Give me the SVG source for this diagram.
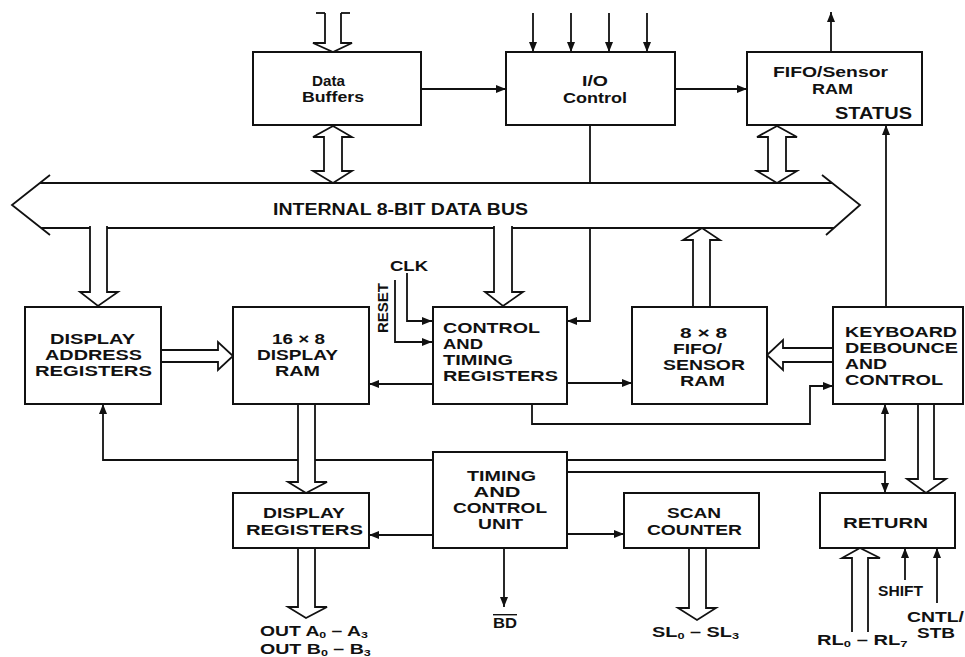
<svg xmlns="http://www.w3.org/2000/svg" width="965" height="657" viewBox="0 0 965 657">
<style>
.bx{fill:#fff;stroke:#111;stroke-width:2}
.ln{fill:none;stroke:#111;stroke-width:1.8}
.ar{marker-end:url(#ah)}
.ha{fill:#fff;stroke:#111;stroke-width:1.8;stroke-linejoin:miter}
.t{font-family:"Liberation Sans",Arial,sans-serif;font-weight:bold;font-size:14px;fill:#111}
.c{text-anchor:middle}
.sub{font-size:9px}
</style>
<defs>
<marker id="ah" markerUnits="userSpaceOnUse" markerWidth="10" markerHeight="8" refX="10" refY="4" orient="auto">
<path d="M0,0 L10,4 L0,8 z" fill="#111"/>
</marker>
</defs>
<rect width="965" height="657" fill="#fff"/>

<g id="connectors">
<!-- bus -->
<path class="ln" d="M50,175 L12,205 L50,235"/>
<path class="ln" d="M822,175 L860,205 L826,235"/>
<line class="ln" x1="40" y1="183" x2="832" y2="183"/>
<line class="ln" x1="41" y1="228" x2="834" y2="228"/>
<!-- simple lines -->
<line class="ln ar" x1="421" y1="89" x2="506" y2="89"/>
<line class="ln ar" x1="675" y1="89" x2="747" y2="89"/>
<line class="ln ar" x1="533" y1="13" x2="533" y2="52"/>
<line class="ln ar" x1="571" y1="13" x2="571" y2="52"/>
<line class="ln ar" x1="609" y1="13" x2="609" y2="52"/>
<line class="ln ar" x1="647" y1="13" x2="647" y2="52"/>
<line class="ln ar" x1="831" y1="52" x2="831" y2="12"/>
<line class="ln" x1="590" y1="125" x2="590" y2="183"/>
<path class="ln ar" d="M590,228 L590,321 L567,321"/>
<path class="ln ar" d="M407,273 L407,321 L432,321"/>
<path class="ln ar" d="M395,280 L395,342 L432,342"/>
<line class="ln ar" x1="433" y1="384" x2="369" y2="384"/>
<line class="ln ar" x1="567" y1="383" x2="632" y2="383"/>
<path class="ln ar" d="M532,404 L532,424 L810,424 L810,386 L833,386"/>
<line class="ln ar" x1="886" y1="308" x2="886" y2="125"/>
<path class="ln ar" d="M567,460 L885,460 L885,404"/>
<path class="ln ar" d="M567,472 L885,472 L885,493"/>
<path class="ln ar" d="M433,460 L103,460 L103,404"/>
<line class="ln ar" x1="433" y1="535" x2="369" y2="535"/>
<line class="ln ar" x1="567" y1="534" x2="624" y2="534"/>
<line class="ln ar" x1="504" y1="548" x2="504" y2="607"/>
<line class="ln ar" x1="905" y1="580" x2="905" y2="548"/>
<line class="ln ar" x1="937" y1="603" x2="937" y2="548"/>
<!-- hollow bus arrows -->
<path class="ha" d="M325,13 L325,43 L313,43 L333,52 L352,43 L341,43 L341,13"/>
<line class="ln" x1="316" y1="13" x2="325" y2="13"/>
<line class="ln" x1="341" y1="13" x2="350" y2="13"/>
<path class="ha" d="M324,137 L313,137 L333,126 L352,137 L342,137 L342,171 L352,171 L333,183 L313,171 L324,171 Z"/>
<path class="ha" d="M768,137 L757,137 L777,126 L797,137 L786,137 L786,171 L797,171 L777,183 L757,171 L768,171 Z"/>
<path class="ha" d="M90,226 L90,292 L80,292 L98,306 L118,292 L107,292 L107,226"/>
<path class="ha" d="M494,226 L494,292 L485,292 L503,306 L523,292 L512,292 L512,226"/>
<path class="ha" d="M693,308 L693,240 L683,240 L702,228 L720,240 L710,240 L710,308"/>
<path class="ha" d="M161,350 L218,350 L218,342 L233,356 L218,370 L218,362 L161,362"/>
<path class="ha" d="M833,348 L783,348 L783,340 L767,355 L783,370 L783,362 L833,362"/>
<path class="ha" d="M298,404 L298,482 L288,482 L306,493 L327,482 L315,482 L315,404"/>
<path class="ha" d="M298,548 L298,607 L288,607 L306,618 L327,607 L315,607 L315,548"/>
<path class="ha" d="M689,548 L689,608 L678,608 L697,620 L716,608 L706,608 L706,548"/>
<path class="ha" d="M918,404 L918,479 L907,479 L926,493 L946,479 L934,479 L934,404"/>
<path class="ha" d="M852,632 L852,558 L842,558 L860,548 L880,558 L868,558 L868,632"/>
</g>

<g id="bus-label">
<text class="t" x="273" y="215" style="font-size:16px" textLength="255" lengthAdjust="spacingAndGlyphs">INTERNAL 8-BIT DATA BUS</text>
</g>

<g id="data-buffers">
<rect class="bx" x="253" y="52" width="168" height="73"/>
<text class="t c" x="328.5" y="86" style="font-size:15px" textLength="33" lengthAdjust="spacingAndGlyphs">Data</text>
<text class="t c" x="333" y="102" style="font-size:15px" textLength="62" lengthAdjust="spacingAndGlyphs">Buffers</text>
</g>

<g id="io-control">
<rect class="bx" x="506" y="52" width="169" height="73"/>
<text class="t c" x="595" y="86" style="font-size:15px" textLength="26" lengthAdjust="spacingAndGlyphs">I/O</text>
<text class="t c" x="595" y="103" style="font-size:15px" textLength="64" lengthAdjust="spacingAndGlyphs">Control</text>
</g>

<g id="fifo-sensor-ram-status">
<rect class="bx" x="747" y="52" width="175" height="73"/>
<text class="t c" x="830.5" y="77" style="font-size:15px" textLength="115" lengthAdjust="spacingAndGlyphs">FIFO/Sensor</text>
<text class="t c" x="832.5" y="94" style="font-size:15px" textLength="41" lengthAdjust="spacingAndGlyphs">RAM</text>
<text class="t" x="835" y="119" style="font-size:16px" textLength="77" lengthAdjust="spacingAndGlyphs">STATUS</text>
</g>

<g id="display-address-registers">
<rect class="bx" x="25" y="307" width="136" height="97"/>
<text class="t c" x="92.5" y="344" textLength="85" lengthAdjust="spacingAndGlyphs">DISPLAY</text>
<text class="t c" x="93.5" y="360" textLength="97" lengthAdjust="spacingAndGlyphs">ADDRESS</text>
<text class="t c" x="93.5" y="376" textLength="117" lengthAdjust="spacingAndGlyphs">REGISTERS</text>
</g>

<g id="display-ram">
<rect class="bx" x="233" y="307" width="136" height="97"/>
<text class="t c" x="298.5" y="344" textLength="53" lengthAdjust="spacingAndGlyphs">16 × 8</text>
<text class="t c" x="297.5" y="360" textLength="81" lengthAdjust="spacingAndGlyphs">DISPLAY</text>
<text class="t c" x="297.5" y="376" textLength="45" lengthAdjust="spacingAndGlyphs">RAM</text>
</g>

<g id="clk-reset">
<text class="t" x="390" y="271" textLength="38" lengthAdjust="spacingAndGlyphs">CLK</text>
<text class="t c" transform="translate(388,308) rotate(-90)" x="0" y="0" textLength="50" lengthAdjust="spacingAndGlyphs">RESET</text>
</g>

<g id="control-timing-registers">
<rect class="bx" x="433" y="307" width="134" height="97"/>
<text class="t" x="443" y="333" textLength="97" lengthAdjust="spacingAndGlyphs">CONTROL</text>
<text class="t" x="443" y="349" textLength="40" lengthAdjust="spacingAndGlyphs">AND</text>
<text class="t" x="443" y="365" textLength="70" lengthAdjust="spacingAndGlyphs">TIMING</text>
<text class="t" x="443" y="381" textLength="115" lengthAdjust="spacingAndGlyphs">REGISTERS</text>
</g>

<g id="fifo-sensor-ram-8x8">
<rect class="bx" x="632" y="307" width="135" height="97"/>
<text class="t c" x="703.5" y="338" textLength="47" lengthAdjust="spacingAndGlyphs">8 × 8</text>
<text class="t c" x="697.5" y="354" textLength="49" lengthAdjust="spacingAndGlyphs">FIFO/</text>
<text class="t c" x="704" y="370" textLength="82" lengthAdjust="spacingAndGlyphs">SENSOR</text>
<text class="t c" x="702.5" y="386" textLength="45" lengthAdjust="spacingAndGlyphs">RAM</text>
</g>

<g id="keyboard-debounce-control">
<rect class="bx" x="833" y="307" width="130" height="97"/>
<text class="t" x="845" y="337" textLength="112" lengthAdjust="spacingAndGlyphs">KEYBOARD</text>
<text class="t" x="845" y="353" textLength="113" lengthAdjust="spacingAndGlyphs">DEBOUNCE</text>
<text class="t" x="845" y="369" textLength="42" lengthAdjust="spacingAndGlyphs">AND</text>
<text class="t" x="845" y="385" textLength="98" lengthAdjust="spacingAndGlyphs">CONTROL</text>
</g>

<g id="timing-control-unit">
<rect class="bx" x="433" y="452" width="134" height="96"/>
<text class="t c" x="501.5" y="481" textLength="69" lengthAdjust="spacingAndGlyphs">TIMING</text>
<text class="t c" x="497" y="497" textLength="47" lengthAdjust="spacingAndGlyphs">AND</text>
<text class="t c" x="500" y="513" textLength="94" lengthAdjust="spacingAndGlyphs">CONTROL</text>
<text class="t c" x="500.5" y="529" textLength="45" lengthAdjust="spacingAndGlyphs">UNIT</text>
</g>

<g id="display-registers">
<rect class="bx" x="233" y="493" width="136" height="55"/>
<text class="t c" x="304" y="518" textLength="82" lengthAdjust="spacingAndGlyphs">DISPLAY</text>
<text class="t c" x="304.5" y="535" textLength="117" lengthAdjust="spacingAndGlyphs">REGISTERS</text>
</g>

<g id="scan-counter">
<rect class="bx" x="624" y="493" width="135" height="55"/>
<text class="t c" x="694" y="518" textLength="54" lengthAdjust="spacingAndGlyphs">SCAN</text>
<text class="t c" x="694.5" y="535" textLength="95" lengthAdjust="spacingAndGlyphs">COUNTER</text>
</g>

<g id="return">
<rect class="bx" x="820" y="493" width="135" height="55"/>
<text class="t c" x="885.5" y="528" textLength="85" lengthAdjust="spacingAndGlyphs">RETURN</text>
</g>

<g id="signal-labels">
<text class="t" transform="translate(260,636) scale(1.38,1)">OUT A<tspan class="sub" dy="2">0</tspan><tspan dy="-2"> – A</tspan><tspan class="sub" dy="2">3</tspan></text>
<text class="t" transform="translate(260,654) scale(1.4,1)">OUT B<tspan class="sub" dy="2">0</tspan><tspan dy="-2"> – B</tspan><tspan class="sub" dy="2">3</tspan></text>
<text class="t" x="493" y="628" textLength="24" lengthAdjust="spacingAndGlyphs" text-decoration="overline">BD</text>
<text class="t" transform="translate(652,637) scale(1.42,1)">SL<tspan class="sub" dy="2">0</tspan><tspan dy="-2"> – SL</tspan><tspan class="sub" dy="2">3</tspan></text>
<text class="t" transform="translate(817,645) scale(1.44,1)">RL<tspan class="sub" dy="2">0</tspan><tspan dy="-2"> – RL</tspan><tspan class="sub" dy="2">7</tspan></text>
<text class="t" x="878" y="596" textLength="45" lengthAdjust="spacingAndGlyphs">SHIFT</text>
<text class="t" x="907" y="622" textLength="57" lengthAdjust="spacingAndGlyphs">CNTL/</text>
<text class="t" x="917" y="638" textLength="38" lengthAdjust="spacingAndGlyphs">STB</text>
</g>
</svg>
